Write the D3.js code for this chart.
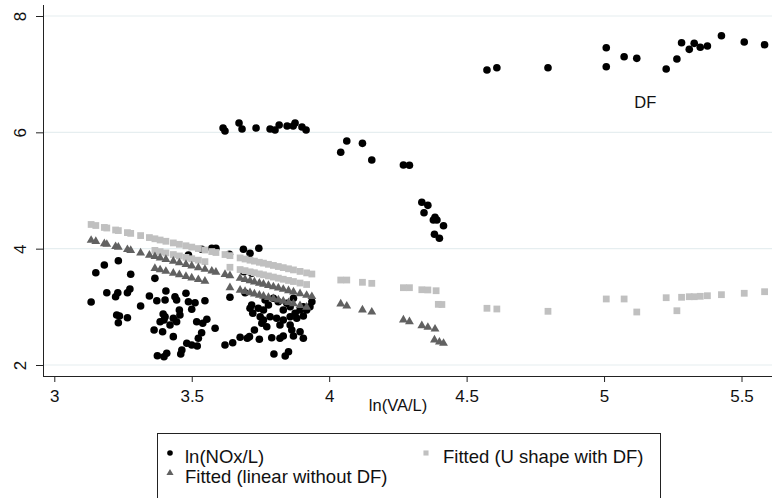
<!DOCTYPE html>
<html>
<head>
<meta charset="utf-8">
<script src="https://cdn.jsdelivr.net/npm/d3@7"></script>
<style>
  html, body { margin: 0; padding: 0; background: #fff; }
  svg { display: block; font-family: "Liberation Sans", Arial, Helvetica, sans-serif; }
</style>
</head>
<body>
<svg id="chart" width="772" height="498"></svg>
<script>
// Observed ln(NOx/L) against ln(VA/L): [x, y]
const observed = [
  [3.134,3.083],[3.151,3.587],[3.182,3.719],[3.233,3.793],[3.278,3.559],[3.191,3.243],
  [3.231,3.243],[3.223,3.174],[3.266,3.243],[3.275,3.307],[3.227,2.860],[3.237,2.842],
  [3.233,2.727],[3.266,2.813],[3.314,3.014],[3.346,3.186],[3.366,3.490],[3.373,3.105],
  [3.406,3.272],[3.403,3.117],[3.363,2.602],[3.394,2.572],[3.375,2.160],[3.409,2.201],
  [3.385,2.744],[3.396,2.877],[3.403,2.830],[3.421,2.688],[3.399,2.143],[3.399,2.774],
  [3.439,3.174],[3.479,3.233],[3.445,3.117],[3.488,3.088],[3.512,3.071],[3.548,3.105],
  [3.500,2.958],[3.455,2.946],[3.433,2.803],[3.445,2.744],[3.433,2.487],[3.518,2.744],
  [3.540,2.717],[3.555,2.786],[3.536,2.555],[3.524,2.459],[3.482,2.373],[3.500,2.344],
  [3.520,2.327],[3.464,2.258],[3.460,2.189],[3.585,2.631],[3.457,2.860],
  [3.536,3.989],[3.573,4.006],[3.588,4.006],[3.488,3.891],[3.639,3.164],[3.637,3.903],
  [3.688,3.989],[3.712,3.920],[3.744,4.006],[3.694,3.243],[3.690,3.604],[3.718,3.576],
  [3.718,3.031],[3.712,2.975],[3.722,2.889],[3.749,2.830],[3.761,2.946],[3.728,2.602],
  [3.621,2.344],[3.649,2.383],[3.676,2.476],[3.702,2.459],[3.710,2.487],[3.746,2.442],
  [3.773,2.658],[3.755,2.717],[3.761,2.774],[3.742,2.975],[3.767,3.117],[3.779,3.031],
  [3.797,3.147],[3.815,3.088],[3.833,2.946],[3.846,3.061],[3.858,3.002],[3.870,3.147],
  [3.876,2.889],[3.894,2.946],[3.906,2.842],[3.882,2.803],[3.858,2.830],[3.833,2.774],
  [3.809,2.803],[3.785,2.830],[3.821,2.688],[3.858,2.688],[3.864,2.602],[3.833,2.499],
  [3.870,2.499],[3.894,2.572],[3.906,2.459],[3.791,2.469],[3.821,2.459],[3.799,2.189],
  [3.840,2.155],[3.852,2.229],[3.930,3.002],[3.937,3.088],[3.918,2.946],[3.906,3.002],
  // upper group
  [3.614,6.074],[3.621,6.023],[3.672,6.160],[3.683,6.057],[3.734,6.074],[3.785,6.057],
  [3.803,6.040],[3.818,6.126],[3.847,6.109],[3.869,6.109],[3.876,6.160],[3.901,6.092],
  [3.916,6.040],
  // descending group
  [4.042,5.657],[4.064,5.851],[4.121,5.811],[4.155,5.524],[4.270,5.438],[4.292,5.433],
  [4.337,4.797],[4.359,4.745],[4.345,4.618],[4.385,4.539],[4.392,4.493],[4.379,4.493],
  [4.416,4.395],[4.383,4.247],[4.401,4.178],
  // DF group
  [4.574,7.071],[4.610,7.111],[4.796,7.111],[5.008,7.455],[5.008,7.128],[5.073,7.300],
  [5.119,7.272],[5.226,7.088],[5.265,7.261],[5.282,7.541],[5.310,7.427],[5.328,7.530],
  [5.350,7.462],[5.376,7.484],[5.427,7.661],[5.510,7.553],[5.584,7.506]
];

// Fitted values, quadratic specification with the DF dummy: [x, y]
const fittedU = [
  [3.134,4.416],[3.151,4.398],[3.182,4.365],[3.191,4.355],[3.223,4.321],[3.233,4.311],
  [3.266,4.276],[3.278,4.263],[3.314,4.225],[3.346,4.191],[3.366,4.170],[3.385,4.149],
  [3.406,4.127],[3.433,4.099],[3.455,4.075],[3.479,4.050],[3.500,4.027],[3.524,4.002],
  [3.548,3.977],[3.573,3.950],[3.588,3.934],[3.621,3.899],[3.639,3.880],[3.676,3.841],
  [3.694,3.822],[3.712,3.802],[3.728,3.786],[3.746,3.766],[3.761,3.751],[3.779,3.731],
  [3.797,3.712],[3.815,3.693],[3.833,3.674],[3.852,3.654],[3.870,3.635],[3.894,3.609],
  [3.918,3.584],[3.937,3.564],
  [3.366,3.970],[3.385,3.949],[3.406,3.927],[3.433,3.899],[3.455,3.875],[3.479,3.850],
  [3.500,3.827],[3.524,3.802],[3.548,3.777],
  [3.639,3.680],[3.676,3.641],[3.694,3.622],[3.712,3.602],[3.728,3.586],[3.746,3.566],
  [3.761,3.551],[3.779,3.531],[3.797,3.512],[3.815,3.493],[3.833,3.474],[3.852,3.454],
  [3.870,3.435],[3.894,3.409],[3.918,3.384],
  [4.042,3.461],[4.064,3.461],[4.121,3.422],[4.155,3.404],[4.270,3.329],[4.292,3.329],
  [4.337,3.294],[4.359,3.290],[4.389,3.277],[4.397,3.043],[4.410,3.040],
  [4.574,2.975],[4.610,2.963],[4.796,2.923],[5.008,3.135],[5.073,3.135],[5.119,2.911],
  [5.226,3.157],[5.265,2.933],[5.282,3.164],[5.310,3.174],[5.328,3.174],[5.350,3.181],
  [5.376,3.191],[5.427,3.209],[5.510,3.233],[5.584,3.260]
];

// Fitted values, linear specification estimated without DF: [x, y]
const fittedLinear = [
  [3.134,4.144],[3.151,4.124],[3.182,4.086],[3.191,4.075],[3.223,4.037],[3.233,4.025],
  [3.266,3.985],[3.278,3.971],[3.314,3.927],[3.346,3.889],[3.366,3.865],[3.385,3.842],
  [3.406,3.816],[3.433,3.784],[3.455,3.757],[3.479,3.728],[3.500,3.703],[3.524,3.674],
  [3.548,3.645],[3.573,3.615],[3.588,3.597],[3.621,3.557],[3.639,3.536],[3.676,3.491],
  [3.694,3.469],[3.712,3.448],[3.728,3.428],[3.746,3.407],[3.761,3.389],[3.779,3.367],
  [3.797,3.345],[3.815,3.324],[3.833,3.302],[3.852,3.279],[3.870,3.257],[3.894,3.228],
  [3.918,3.199],[3.937,3.177],
  [3.366,3.660],[3.385,3.637],[3.406,3.611],[3.433,3.579],[3.455,3.552],[3.479,3.523],
  [3.500,3.498],[3.524,3.469],[3.548,3.440],
  [3.639,3.331],[3.676,3.286],[3.694,3.264],[3.712,3.243],[3.728,3.223],[3.746,3.202],
  [3.761,3.184],[3.779,3.162],[3.797,3.140],[3.815,3.119],[3.833,3.097],[3.852,3.074],
  [3.870,3.052],[3.894,3.023],[3.918,2.994],
  [4.042,3.049],[4.064,3.014],[4.121,2.946],[4.155,2.911],[4.270,2.774],[4.292,2.744],
  [4.337,2.676],[4.359,2.648],[4.385,2.619],[4.383,2.430],[4.401,2.395],[4.416,2.373]
];

const xTicks = [3, 3.5, 4, 4.5, 5, 5.5];
const yTicks = [2, 4, 6, 8];
const xTitle = "ln(VA/L)";
const noteText = "DF";
const noteAt = [5.15, 6.42];
const legendItems = ["ln(NOx/L)", "Fitted (U shape with DF)", "Fitted (linear without DF)"];

const svg = d3.select("#chart");
const plot = { left: 43, right: 772, top: 5, bottom: 376 };

const x = d3.scaleLinear().domain([3, 5.5]).range([54.3, 741.5]);
const y = d3.scaleLinear().domain([2, 8]).range([365, 16]);

const ink = "#222";
const darkGray = "#616161";
const lightGray = "#c0c0c0";

// horizontal grid
svg.append("g").selectAll("line").data(yTicks).join("line")
  .attr("x1", plot.left).attr("x2", plot.right)
  .attr("y1", d => y(d)).attr("y2", d => y(d))
  .attr("stroke", "#e6eef0").attr("stroke-width", 1.2);

// y axis
const yAxis = svg.append("g").attr("transform", `translate(${plot.left},0)`)
  .call(d3.axisLeft(y).tickValues(yTicks).tickSize(7).tickFormat(d3.format("d")));
yAxis.select(".domain").remove();
yAxis.selectAll(".tick line").attr("stroke", ink);
yAxis.selectAll(".tick text")
  .attr("x", 0).attr("y", 0).attr("dy", 0)
  .attr("transform", "translate(-17,0) rotate(-90)")
  .attr("text-anchor", "middle")
  .attr("font-size", 17).attr("fill", "#111");
svg.append("line").attr("x1", plot.left + 0.5).attr("x2", plot.left + 0.5)
  .attr("y1", plot.top).attr("y2", plot.bottom).attr("stroke", ink);

// x axis
const xAxis = svg.append("g").attr("transform", `translate(0,${plot.bottom})`)
  .call(d3.axisBottom(x).tickValues(xTicks).tickSize(6).tickFormat(d3.format("")));
xAxis.select(".domain").remove();
xAxis.selectAll(".tick line").attr("stroke", ink);
xAxis.selectAll(".tick text")
  .attr("y", 25.5).attr("dy", 0)
  .attr("font-size", 17).attr("fill", "#111");
svg.append("line").attr("x1", plot.left).attr("x2", plot.right)
  .attr("y1", plot.bottom + 0.5).attr("y2", plot.bottom + 0.5).attr("stroke", ink);

svg.append("text").attr("x", 398).attr("y", 411)
  .attr("text-anchor", "middle").attr("font-size", 16.5).attr("fill", "#111")
  .text(xTitle);

const marks = svg.append("g");
const sym = (type, size) => d3.symbol().type(type).size(size);

// observations
marks.append("g").selectAll("circle").data(observed).join("circle")
  .attr("cx", d => x(d[0])).attr("cy", d => y(d[1])).attr("r", 3.8)
  .attr("fill", "#000");

// quadratic fit with DF
marks.append("g").selectAll("path").data(fittedU).join("path")
  .attr("transform", d => `translate(${x(d[0])},${y(d[1])})`)
  .attr("d", sym(d3.symbolSquare, 46)).attr("fill", lightGray);

// linear fit without DF
marks.append("g").selectAll("path").data(fittedLinear).join("path")
  .attr("transform", d => `translate(${x(d[0])},${y(d[1])})`)
  .attr("d", sym(d3.symbolTriangle, 34)).attr("fill", darkGray);

svg.append("text").attr("x", x(noteAt[0])).attr("y", y(noteAt[1]))
  .attr("text-anchor", "middle").attr("font-size", 16.5).attr("fill", "#111")
  .text(noteText);

// legend
const lg = svg.append("g");
lg.append("rect").attr("x", 157.5).attr("y", 433.5).attr("width", 503).attr("height", 80)
  .attr("fill", "#fff").attr("stroke", ink);
const legendPos = [[170, 453, 185, 462.5], [426, 453, 443, 462.5], [170, 473, 185, 482.5]];
lg.append("circle").attr("cx", legendPos[0][0]).attr("cy", legendPos[0][1]).attr("r", 2.8).attr("fill", "#000");
lg.append("path").attr("transform", `translate(${legendPos[1][0]},${legendPos[1][1]})`)
  .attr("d", sym(d3.symbolSquare, 26)).attr("fill", lightGray);
lg.append("path").attr("transform", `translate(${legendPos[2][0]},${legendPos[2][1]})`)
  .attr("d", sym(d3.symbolTriangle, 22)).attr("fill", darkGray);
lg.selectAll("text.item").data(legendItems).join("text").attr("class", "item")
  .attr("x", (d, i) => legendPos[i][2]).attr("y", (d, i) => legendPos[i][3])
  .attr("font-size", 18.5).attr("fill", "#111").text(d => d);
</script>
</body>
</html>
